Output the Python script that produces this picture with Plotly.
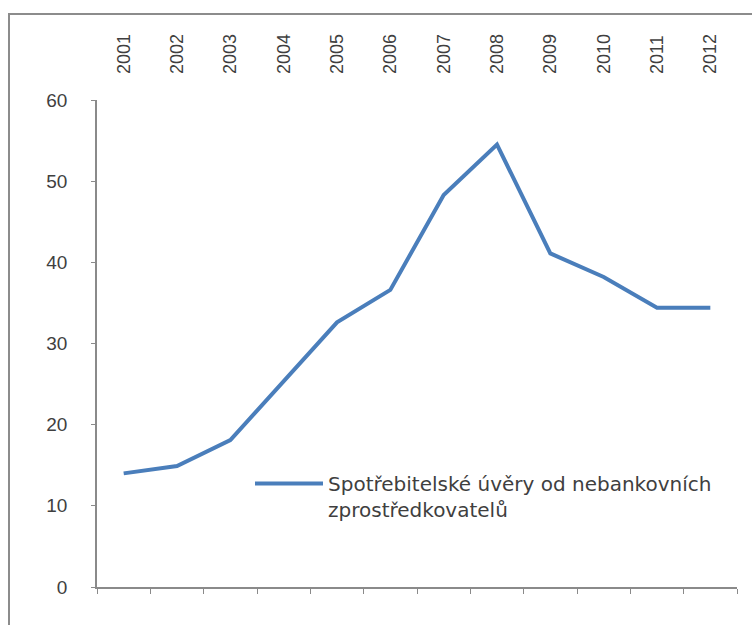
import plotly.graph_objects as go

# Consumer credit from non-bank intermediaries, 2001-2012
years = [2001, 2002, 2003, 2004, 2005, 2006, 2007, 2008, 2009, 2010, 2011, 2012]
values = [14.0, 14.9, 18.1, 25.3, 32.6, 36.6, 48.3, 54.5, 41.1, 38.2, 34.4, 34.4]
series_name = "Spotřebitelské úvěry od nebankovních<br>zprostředkovatelů"
y_ticks = [0, 10, 20, 30, 40, 50, 60]

W, H = 752, 625
ML, MR, MT, MB = 97, 15, 100, 38
PW, PH = W - ML - MR, H - MT - MB

FONT = "Liberation Sans, Arial, sans-serif"
TXT = "#3f3f3f"
AXIS = "#8a8a8a"

fig = go.Figure()
fig.add_trace(go.Scatter(
    x=years, y=values, mode="lines", name=series_name,
    line=dict(color="#4a7ebb", width=4),
))
# invisible companion trace so the top category axis is drawn
fig.add_trace(go.Scatter(
    x=years, y=values, xaxis="x2", mode="markers",
    marker=dict(opacity=0), showlegend=False, hoverinfo="skip",
))

x_lo, x_hi = years[0] - 0.5, years[-1] + 0.5
boundaries = [y - 0.5 for y in years] + [years[-1] + 0.5]


def px_x(px):
    return (px - ML) / PW


def px_y(py):
    return (H - MB - py) / PH


# outer frame of the chart object (continues past right/bottom edges)
fig.add_shape(type="rect", xref="paper", yref="paper",
              x0=px_x(9), x1=px_x(800), y0=px_y(14), y1=px_y(700),
              line=dict(color="#8c8c8c", width=2), fillcolor="rgba(0,0,0,0)",
              layer="below")

fig.update_layout(
    width=W, height=H,
    margin=dict(l=ML, r=MR, t=MT, b=MB),
    paper_bgcolor="white", plot_bgcolor="white",
    font=dict(family=FONT, color=TXT, size=16),
    showlegend=True,
    legend=dict(
        x=px_x(250), y=px_y(464), xanchor="left", yanchor="top",
        bgcolor="rgba(0,0,0,0)",
        font=dict(family="DejaVu Sans, sans-serif", size=20, color=TXT),
        itemwidth=68, valign="top", tracegroupgap=0,
    ),
    xaxis=dict(
        range=[x_lo, x_hi], tickmode="array", tickvals=boundaries,
        showticklabels=False, ticks="outside", ticklen=5, tickcolor=AXIS,
        showline=True, linecolor=AXIS, linewidth=1.5, showgrid=False,
        zeroline=False,
    ),
    xaxis2=dict(
        overlaying="x", side="top", range=[x_lo, x_hi],
        tickmode="array", tickvals=years, ticktext=[str(y) for y in years],
        tickangle=-90, ticks="", showline=False, showgrid=False,
        zeroline=False, ticklabelstandoff=25,
        tickfont=dict(size=18, color=TXT),
    ),
    yaxis=dict(
        range=[0, 60], tickmode="array", tickvals=y_ticks,
        ticks="outside", ticklen=4, tickcolor=AXIS,
        showline=True, linecolor=AXIS, linewidth=1.5, showgrid=False,
        zeroline=False, ticklabelstandoff=20,
        tickfont=dict(size=19, color=TXT),
    ),
)

fig.write_html("out.html")
